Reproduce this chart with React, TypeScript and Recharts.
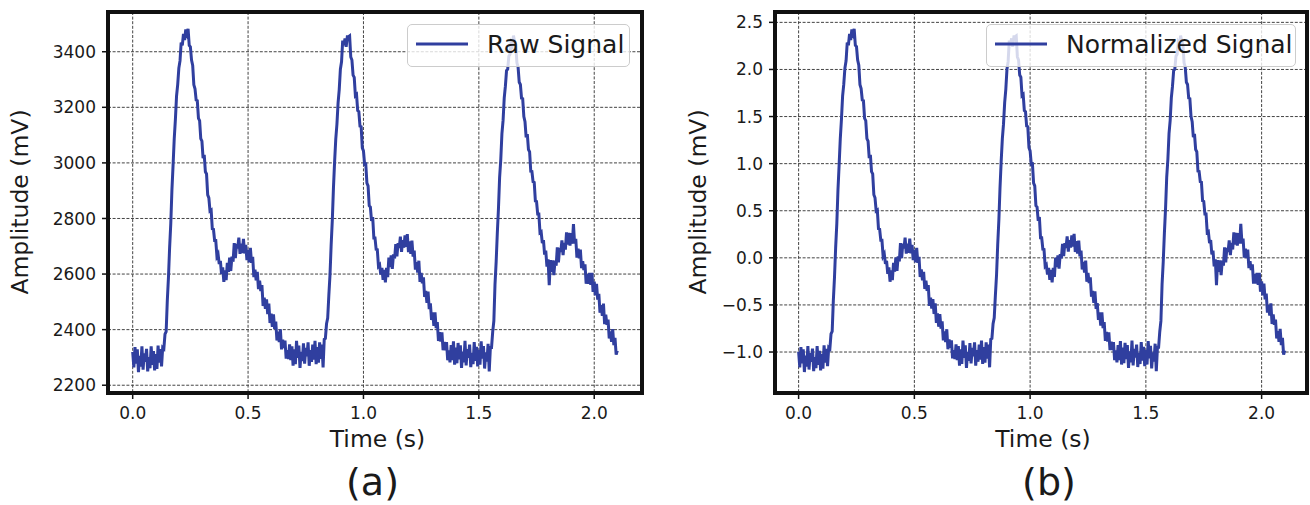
import React from 'react';
import { LineChart, Line, XAxis, YAxis, CartesianGrid, Legend } from 'recharts';

// ---- data ----
const SAMPLE_STEP_S = 0.005;

// raw PPG amplitude in mV, one value per 5 ms sample
const CYCLE_1 = [
  2320, 2264, 2337, 2278, 2329, 2247, 2306, 2267, 2340, 2256,
  2315, 2284, 2331, 2250, 2301, 2261, 2340, 2273, 2323, 2253,
  2312, 2259, 2343, 2281, 2330, 2268, 2335, 2331, 2384, 2393,
  2505, 2588, 2695, 2781, 2903, 2992, 3087, 3156, 3240, 3282,
  3341, 3367, 3433, 3423, 3464, 3442, 3480, 3466, 3482, 3423,
  3418, 3370, 3351, 3281, 3267, 3226, 3224, 3160, 3152, 3087,
  3078, 3017, 3029, 2968, 2960, 2885, 2874, 2827, 2830, 2763,
  2761, 2721, 2721, 2664, 2672, 2636, 2647, 2600, 2624, 2572,
  2613, 2578, 2640, 2608, 2659, 2611, 2663, 2645, 2711, 2657,
  2709, 2692, 2731, 2673, 2709, 2676, 2727, 2674, 2705, 2650,
  2687, 2642, 2694, 2640, 2662, 2589, 2616, 2577, 2608, 2546,
  2576, 2539, 2560, 2485, 2515, 2475, 2509, 2456, 2494, 2424,
  2458, 2410, 2455, 2403, 2429, 2361, 2393, 2355, 2401, 2329,
  2364, 2334, 2361, 2296, 2326, 2294, 2347, 2290, 2340, 2270,
];
const CYCLE_2 = [
  2329, 2276, 2360, 2298, 2343, 2262, 2320, 2287, 2351, 2278,
  2334, 2304, 2354, 2270, 2326, 2284, 2346, 2292, 2360, 2276,
  2337, 2281, 2354, 2295, 2346, 2264, 2365, 2368, 2421, 2442,
  2524, 2597, 2705, 2794, 2911, 3005, 3086, 3139, 3216, 3264,
  3337, 3364, 3440, 3424, 3448, 3418, 3454, 3454, 3457, 3381,
  3370, 3316, 3308, 3242, 3246, 3188, 3184, 3132, 3130, 3054,
  3043, 2995, 2996, 2927, 2917, 2846, 2841, 2791, 2805, 2730,
  2730, 2689, 2688, 2628, 2633, 2598, 2622, 2579, 2615, 2570,
  2622, 2589, 2659, 2625, 2667, 2619, 2671, 2656, 2708, 2664,
  2711, 2694, 2735, 2680, 2722, 2695, 2739, 2698, 2744, 2679,
  2718, 2673, 2720, 2663, 2684, 2616, 2643, 2605, 2648, 2572,
  2604, 2567, 2588, 2518, 2539, 2496, 2537, 2474, 2495, 2435,
  2462, 2414, 2462, 2405, 2427, 2359, 2391, 2357, 2390, 2326,
  2356, 2326, 2355, 2290, 2325, 2282, 2344, 2290, 2358, 2274,
];
const CYCLE_3 = [
  2335, 2279, 2352, 2293, 2344, 2262, 2321, 2282, 2360, 2271,
  2330, 2299, 2346, 2265, 2316, 2276, 2355, 2288, 2338, 2268,
  2327, 2274, 2358, 2296, 2341, 2260, 2318, 2285, 2349, 2250,
  2336, 2336, 2392, 2431, 2563, 2644, 2747, 2836, 2948, 3012,
  3105, 3153, 3234, 3276, 3332, 3337, 3384, 3391, 3432, 3423,
  3458, 3437, 3425, 3360, 3345, 3290, 3282, 3233, 3231, 3167,
  3148, 3092, 3104, 3048, 3040, 2970, 2969, 2932, 2930, 2863,
  2861, 2816, 2816, 2749, 2752, 2711, 2722, 2670, 2684, 2627,
  2653, 2560, 2650, 2608, 2649, 2596, 2648, 2630, 2696, 2642,
  2694, 2680, 2721, 2668, 2712, 2688, 2750, 2706, 2748, 2702,
  2747, 2709, 2780, 2710, 2727, 2659, 2691, 2657, 2688, 2621,
  2646, 2614, 2635, 2565, 2600, 2565, 2604, 2561, 2604, 2536,
  2573, 2523, 2565, 2508, 2529, 2461, 2488, 2450, 2494, 2420,
  2454, 2417, 2436, 2368, 2394, 2356, 2402, 2344, 2370, 2310,
  2325,
];
const RAW_MV = [...CYCLE_1, ...CYCLE_2, ...CYCLE_3];

// z-score normalisation parameters of the signal (mV)
const NORM_MEAN_MV = 2658;
const NORM_STD_MV = 339;

const TIME_TICKS = [0, 0.5, 1, 1.5, 2];
const RAW_TICKS = [2200, 2400, 2600, 2800, 3000, 3200, 3400];
const NORM_TICKS = [-1, -0.5, 0, 0.5, 1, 1.5, 2, 2.5];

const rawData = RAW_MV.map((v, i) => ({ t: Math.round(i * SAMPLE_STEP_S * 1000) / 1000, v }));
const normData = RAW_MV.map((v, i) => ({
  t: Math.round(i * SAMPLE_STEP_S * 1000) / 1000,
  v: (v - NORM_MEAN_MV) / NORM_STD_MV,
}));

// ---- styles ----
const FONT = "'DejaVu Sans', 'Liberation Sans', sans-serif";
const LINE_COLOR = '#303f9f';
const TEXT_COLOR = '#1a1a1a';
const TICK_FONT = 17;
const LABEL_FONT = 23.5;

const fmtTick = (v: number) => (v < 0 ? '\u2212' + Math.abs(v).toFixed(1) : v.toFixed(1));
const fmtInt = (v: number) => String(v);

const LegendBox = ({ label, width }: { label: string; width: number }) => (
  <div
    style={{
      boxSizing: 'border-box',
      width,
      height: 43,
      border: '1px solid #cccccc',
      borderRadius: 5,
      background: 'rgba(255,255,255,0.8)',
      display: 'flex',
      alignItems: 'center',
      paddingLeft: 8,
      paddingBottom: 3,
      fontFamily: FONT,
      fontSize: 25,
      color: TEXT_COLOR,
    }}
  >
    <svg width={52} height={6} style={{ flex: 'none' }}>
      <line x1={0} y1={3} x2={52} y2={3} stroke={LINE_COLOR} strokeWidth={3} />
    </svg>
    <span style={{ marginLeft: 19, lineHeight: 1, whiteSpace: 'nowrap' }}>{label}</span>
  </div>
);

const YTitle = ({ tx, ty, text }: { tx: number; ty: number; text: string }) => (
  <text
    x={tx}
    y={ty}
    transform={`rotate(-90 ${tx} ${ty})`}
    textAnchor="middle"
    fill={TEXT_COLOR}
    fontFamily={FONT}
    fontSize={LABEL_FONT}
  >
    {text}
  </text>
);

const XTitle = ({ tx, ty, text }: { tx: number; ty: number; text: string }) => (
  <text x={tx} y={ty} textAnchor="middle" fill={TEXT_COLOR} fontFamily={FONT} fontSize={LABEL_FONT}>
    {text}
  </text>
);

type PanelProps = {
  data: { t: number; v: number }[];
  left: number;
  width: number;
  yAxisWidth: number;
  marginRight: number;
  xDomain: [number, number];
  yDomain: [number, number];
  yTicks: number[];
  yFmt: (v: number) => string;
  legendLabel: string;
  legendLeft: number;
  legendWidth: number;
  yTitleX: number;
  xTitleX: number;
};

const Panel = (p: PanelProps) => (
  <div style={{ position: 'absolute', left: p.left, top: 0, width: p.width, height: 505 }}>
    <LineChart
      width={p.width}
      height={505}
      data={p.data}
      margin={{ top: 12, right: p.marginRight, bottom: 82, left: 0 }}
    >
      <CartesianGrid stroke="#444" strokeWidth={1} strokeDasharray="3 1.6" />
      <XAxis
        dataKey="t"
        type="number"
        domain={p.xDomain}
        ticks={TIME_TICKS}
        tickFormatter={fmtTick}
        allowDataOverflow
        axisLine={false}
        tickLine={{ stroke: '#111', strokeWidth: 1.5 }}
        tickSize={6}
        tickMargin={8}
        height={30}
        tick={{ fill: TEXT_COLOR, fontSize: TICK_FONT, fontFamily: FONT }}
        label={<XTitle tx={p.xTitleX} ty={446.5} text="Time (s)" />}
      />
      <YAxis
        type="number"
        domain={p.yDomain}
        ticks={p.yTicks}
        tickFormatter={p.yFmt}
        allowDataOverflow
        axisLine={false}
        tickLine={{ stroke: '#111', strokeWidth: 1.5 }}
        tickSize={6}
        tickMargin={6}
        width={p.yAxisWidth}
        tick={{ fill: TEXT_COLOR, fontSize: TICK_FONT, fontFamily: FONT }}
        label={<YTitle tx={p.yTitleX} ty={202} text="Amplitude (mV)" />}
      />
      <Line
        dataKey="v"
        type="linear"
        stroke={LINE_COLOR}
        strokeWidth={3}
        dot={false}
        isAnimationActive={false}
        name={p.legendLabel}
      />
      <Legend
        layout="vertical"
        align="center"
        verticalAlign="middle"
        wrapperStyle={{ left: p.legendLeft, top: 24, width: p.legendWidth }}
        content={() => <LegendBox label={p.legendLabel} width={p.legendWidth} />}
      />
    </LineChart>
  </div>
);

export default function App() {
  return (
    <div
      style={{
        position: 'absolute',
        left: 0,
        top: 0,
        width: 1310,
        height: 505,
        background: '#ffffff',
        fontFamily: FONT,
      }}
    >
      <Panel
        data={rawData}
        left={0}
        width={660}
        yAxisWidth={108}
        marginRight={18}
        xDomain={[-0.107, 2.207]}
        yDomain={[2172, 3543]}
        yTicks={RAW_TICKS}
        yFmt={fmtInt}
        legendLabel="Raw Signal"
        legendLeft={407}
        legendWidth={223}
        yTitleX={27.5}
        xTitleX={377.5}
      />
      <Panel
        data={normData}
        left={660}
        width={650}
        yAxisWidth={115}
        marginRight={3}
        xDomain={[-0.102, 2.196]}
        yDomain={[-1.435, 2.61]}
        yTicks={NORM_TICKS}
        yFmt={fmtTick}
        legendLabel="Normalized Signal"
        legendLeft={326}
        legendWidth={310}
        yTitleX={45.5}
        xTitleX={383}
      />
      <svg
        width={1310}
        height={505}
        style={{ position: 'absolute', left: 0, top: 0, pointerEvents: 'none' }}
      >
        <rect x={108} y={12} width={534} height={381} fill="none" stroke="#111" strokeWidth={4} />
        <rect x={775} y={12} width={532} height={381} fill="none" stroke="#111" strokeWidth={4} />
        <text x={372.5} y={495} textAnchor="middle" fill={TEXT_COLOR} fontFamily={FONT} fontSize={38}>
          (a)
        </text>
        <text x={1049} y={495} textAnchor="middle" fill={TEXT_COLOR} fontFamily={FONT} fontSize={38}>
          (b)
        </text>
      </svg>
    </div>
  );
}
